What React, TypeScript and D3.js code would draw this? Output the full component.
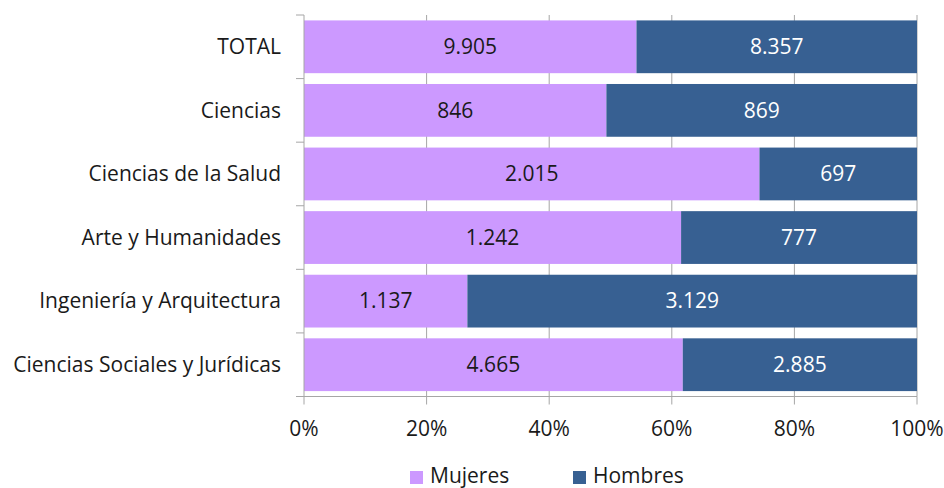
import React from "react";
import * as d3 from "d3";

const categories = [
  "TOTAL",
  "Ciencias",
  "Ciencias de la Salud",
  "Arte y Humanidades",
  "Ingeniería y Arquitectura",
  "Ciencias Sociales y Jurídicas",
];
const mujeres = [9905, 846, 2015, 1242, 1137, 4665];
const hombres = [8357, 869, 697, 777, 3129, 2885];
const seriesNames = ["Mujeres", "Hombres"];
const colors = ["#CC99FF", "#376092"];
const ticks = [0, 0.2, 0.4, 0.6, 0.8, 1];

const W = 944;
const H = 488;
const left = 304;
const right = 917;
const top = 15;
const bottom = 396.5;
const FONT = "'Open Sans', 'Noto Sans', sans-serif";
const FS = 21;

const fmt = (v: number) => d3.format(",")(v).replace(/,/g, ".");

export default function App() {
  const x = d3.scaleLinear().domain([0, 1]).range([left, right]);
  const y = d3
    .scaleBand<string>()
    .domain(categories)
    .range([top, bottom])
    .paddingInner(0.17)
    .paddingOuter(0.085);
  const band = (bottom - top) / categories.length;

  return (
    <svg
      width={W}
      height={H}
      style={{ position: "absolute", left: 0, top: 0, background: "#fff" }}
      fontFamily={FONT}
    >
      {ticks.slice(1).map((t) => (
        <line
          key={t}
          x1={x(t)}
          x2={x(t)}
          y1={top}
          y2={bottom}
          stroke="#A6A6A6"
          strokeWidth={1}
        />
      ))}
      {categories.map((c, i) => {
        const total = mujeres[i] + hombres[i];
        const p = mujeres[i] / total;
        const y0 = y(c)!;
        const h = y.bandwidth();
        return (
          <g key={c}>
            <rect x={x(0)} y={y0} width={x(p) - x(0)} height={h} fill={colors[0]} />
            <rect x={x(p)} y={y0} width={x(1) - x(p)} height={h} fill={colors[1]} />
            <text
              x={(x(0) + x(p)) / 2}
              y={y0 + h / 2}
              dy="0.35em"
              textAnchor="middle"
              fontSize={FS}
              fill="#1a1a1a"
            >
              {fmt(mujeres[i])}
            </text>
            <text
              x={(x(p) + x(1)) / 2}
              y={y0 + h / 2}
              dy="0.35em"
              textAnchor="middle"
              fontSize={FS}
              fill="#ffffff"
            >
              {fmt(hombres[i])}
            </text>
            <text
              x={281}
              y={y0 + h / 2}
              dy="0.35em"
              textAnchor="end"
              fontSize={FS}
              fill="#1a1a1a"
            >
              {c}
            </text>
          </g>
        );
      })}
      <line x1={left} x2={left} y1={top} y2={bottom} stroke="#A6A6A6" />
      {d3.range(categories.length + 1).map((k) => (
        <line
          key={k}
          x1={left - 8}
          x2={left}
          y1={top + k * band}
          y2={top + k * band}
          stroke="#A6A6A6"
        />
      ))}
      <line x1={left} x2={right} y1={bottom} y2={bottom} stroke="#A6A6A6" />
      {ticks.map((t) => (
        <g key={t}>
          <line x1={x(t)} x2={x(t)} y1={bottom} y2={bottom + 8} stroke="#A6A6A6" />
          <text
            x={x(t)}
            y={436}
            textAnchor="middle"
            fontSize={FS}
            fill="#1a1a1a"
          >
            {d3.format(".0%")(t)}
          </text>
        </g>
      ))}
      {seriesNames.map((s, i) => {
        const lx = i === 0 ? 410 : 573;
        return (
          <g key={s}>
            <rect x={lx} y={471} width={13} height={13} fill={colors[i]} />
            <text x={lx + 20} y={483} fontSize={FS} fill="#1a1a1a">
              {s}
            </text>
          </g>
        );
      })}
    </svg>
  );
}
